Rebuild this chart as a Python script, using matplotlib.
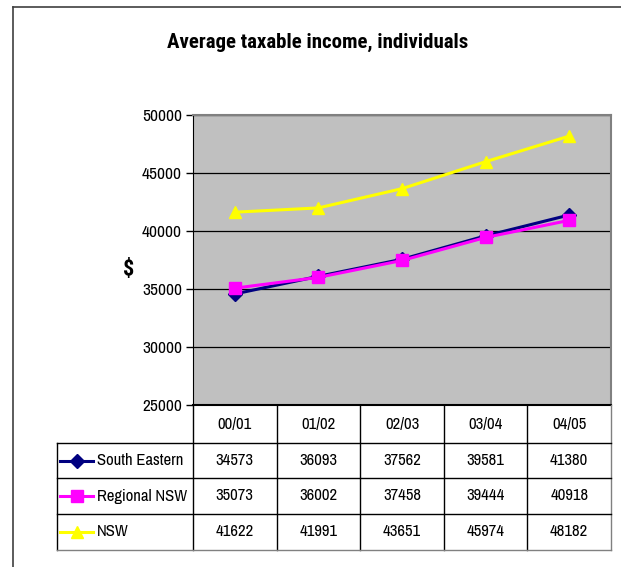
import matplotlib.pyplot as plt
from matplotlib.lines import Line2D

years = ['00/01', '01/02', '02/03', '03/04', '04/05']
south_eastern = [34573, 36093, 37562, 39581, 41380]
regional_nsw = [35073, 36002, 37458, 39444, 40918]
nsw = [41622, 41991, 43651, 45974, 48182]

series = [
    ('South Eastern', south_eastern, '#000080', 'D', 7),
    ('Regional NSW', regional_nsw, '#FF00FF', 's', 8),
    ('NSW', nsw, '#FFFF00', '^', 9),
]

plt.rcParams['font.family'] = ['Archivo Narrow', 'Roboto Condensed', 'DejaVu Sans']
title_font = ['Roboto Condensed', 'DejaVu Sans']

W, H = 621, 567
fig = plt.figure(figsize=(W / 100, H / 100), dpi=100)


def fx(px):
    return px / W


def fy(py):
    return 1 - py / H


# outer chart frame (cut off at right and bottom)
fig.add_artist(Line2D([fx(13), fx(13)], [fy(7), 0], color='#404040', lw=1.2))
fig.add_artist(Line2D([fx(13), 1], [fy(7), fy(7)], color='#404040', lw=1.2))

left, right, top, bottom = 193, 611, 115, 405
ax = fig.add_axes([fx(left), fy(bottom), fx(right - left), (bottom - top) / H])
ax.set_facecolor('#C0C0C0')
x = list(range(len(years)))
for name, vals, color, marker, ms in series:
    ax.plot(x, vals, color=color, marker=marker, markersize=ms, lw=2.2,
            markeredgecolor=color, zorder=3)
ax.set_xlim(-0.5, len(years) - 0.5)
ax.set_ylim(25000, 50000)
ax.set_yticks(range(25000, 50001, 5000))
ax.set_xticks([])
ax.yaxis.grid(True, color='black', lw=0.9)
ax.set_axisbelow(True)
ax.tick_params(axis='y', direction='out', length=5, width=1, labelsize=12.5, pad=3)
for s in ['top', 'right']:
    ax.spines[s].set_color('#808080')
    ax.spines[s].set_linewidth(1.5)
ax.spines['left'].set_color('black')
ax.spines['bottom'].set_color('black')
ax.spines['bottom'].set_linewidth(1.5)

fig.text(fx(129), fy(270), '$', fontsize=16, fontweight='bold', family=title_font,
         ha='center', va='center')
fig.text(fx(318), fy(42), 'Average taxable income, individuals', fontsize=15,
         fontweight='bold', family=title_font, ha='center', va='center')

# data table under the plot
tab_left = 57
row_edges = [405, 443, 478, 514, 550]
cw = (right - left) / len(years)
col_edges = [left + i * cw for i in range(len(years) + 1)]

fig.add_artist(Line2D([fx(left), fx(left)], [fy(row_edges[0]), fy(row_edges[-1])], color='black', lw=1))
for c in col_edges[1:]:
    col = '#808080' if c == col_edges[-1] else 'black'
    fig.add_artist(Line2D([fx(c), fx(c)], [fy(row_edges[0]), fy(row_edges[-1])], color=col, lw=1))
fig.add_artist(Line2D([fx(tab_left), fx(tab_left)], [fy(row_edges[1]), fy(row_edges[-1])], color='black', lw=1))
for r in row_edges[1:]:
    col = '#808080' if r == row_edges[-1] else 'black'
    fig.add_artist(Line2D([fx(tab_left), fx(right)], [fy(r), fy(r)], color=col, lw=1))

for i, yr in enumerate(years):
    cx = left + (i + 0.5) * cw
    fig.text(fx(cx), fy((row_edges[0] + row_edges[1]) / 2), yr, fontsize=12,
             ha='center', va='center')

for j, (name, vals, color, marker, ms) in enumerate(series):
    cy = (row_edges[j + 1] + row_edges[j + 2]) / 2
    fig.add_artist(Line2D([fx(60), fx(93)], [fy(cy), fy(cy)], color=color, lw=2.2))
    fig.add_artist(Line2D([fx(77)], [fy(cy)], color=color, marker=marker, markersize=ms,
                          markeredgecolor=color, lw=0))
    fig.text(fx(97), fy(cy), name, fontsize=12, ha='left', va='center')
    for i, v in enumerate(vals):
        cx = left + (i + 0.5) * cw
        fig.text(fx(cx), fy(cy), str(v), fontsize=12, ha='center', va='center')

fig.savefig('out.png', dpi=100, facecolor='white')
